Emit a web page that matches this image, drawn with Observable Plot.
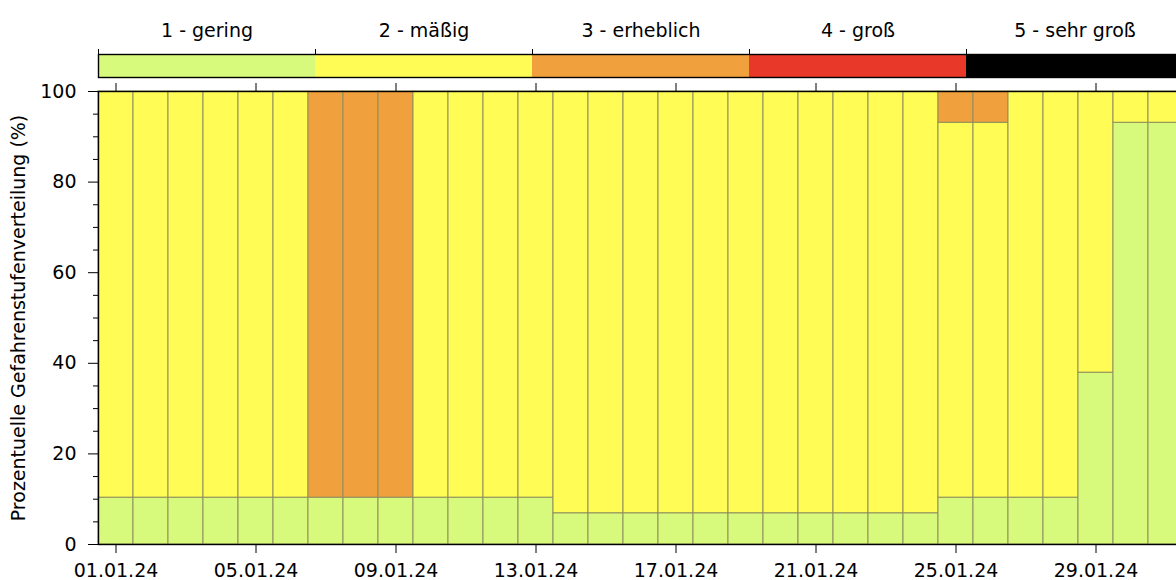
<!DOCTYPE html>
<html><head><meta charset="utf-8">
<script src="https://cdn.jsdelivr.net/npm/d3@7"></script>
<script src="https://cdn.jsdelivr.net/npm/@observablehq/plot@0.6"></script>
<style>
html,body{margin:0;padding:0;overflow:hidden;background:#fff;}
#chart{width:1183px;}
#chart svg{display:block;max-width:none !important;}
</style></head><body><div id="chart"></div>
<script>
const days = ["01.01.24","02.01.24","03.01.24","04.01.24","05.01.24","06.01.24","07.01.24","08.01.24","09.01.24","10.01.24",
  "11.01.24","12.01.24","13.01.24","14.01.24","15.01.24","16.01.24","17.01.24","18.01.24","19.01.24","20.01.24",
  "21.01.24","22.01.24","23.01.24","24.01.24","25.01.24","26.01.24","27.01.24","28.01.24","29.01.24","30.01.24","31.01.24"];
const tickDays = ["01.01.24","05.01.24","09.01.24","13.01.24","17.01.24","21.01.24","25.01.24","29.01.24"];
const level1 = [10.34,10.34,10.34,10.34,10.34,10.34, 10.34,10.34,10.34, 10.34,10.34,10.34,10.34,
  6.9,6.9,6.9,6.9,6.9,6.9,6.9,6.9,6.9,6.9,6.9, 10.34,10.34,10.34,10.34, 37.93, 93.1,93.1];
const level2 = [89.66,89.66,89.66,89.66,89.66,89.66, 0,0,0, 89.66,89.66,89.66,89.66,
  93.1,93.1,93.1,93.1,93.1,93.1,93.1,93.1,93.1,93.1,93.1, 82.76,82.76,89.66,89.66, 62.07, 6.9,6.9];
const level3 = [0,0,0,0,0,0, 89.66,89.66,89.66, 0,0,0,0,
  0,0,0,0,0,0,0,0,0,0,0, 6.9,6.9,0,0, 0, 0,0];
const level4 = new Array(31).fill(0);
const level5 = new Array(31).fill(0);
const levelNames = ["1 - gering","2 - mäßig","3 - erheblich","4 - groß","5 - sehr groß"];
const levelColors = ["#d8fa7c","#fffc55","#f0a03c","#e8382a","#000000"];
const yMajor = [0,20,40,60,80,100];
const yMinor = [5,10,15,25,30,35,45,50,55,65,70,75,85,90,95];
const yLabel = "Prozentuelle Gefahrenstufenverteilung (%)";

const series = [level1, level2, level3, level4, level5];
const data = [];
days.forEach((day, i) => {
  series.forEach((s, k) => { if (s[i] > 0) data.push({day, level: levelNames[k], value: s[i]}); });
});

const font = {fontFamily: "DejaVu Sans", fontSize: "19px", color: "#000", background: "white", overflow: "visible", maxWidth: "none"};

const legend = Plot.plot({
  width: 1183, height: 80, marginLeft: 98, marginRight: 0, marginTop: 54, marginBottom: 3,
  style: font,
  x: {domain: [0, 5], axis: null},
  y: {domain: [0, 1], axis: null},
  color: {domain: levelNames, range: levelColors},
  marks: [
    Plot.rectY(levelNames, {x1: (d, i) => i, x2: (d, i) => i + 1, y1: 0, y2: 1, fill: d => d}),
    Plot.frame({stroke: "#000", strokeWidth: 1.4}),
    Plot.axisX({anchor: "top", ticks: [0, 1, 2, 3, 4], tickSize: 6, tickFormat: () => "", label: null}),
    Plot.text(levelNames, {x: (d, i) => i + 0.5, frameAnchor: "top", dy: -31, text: d => d, fontSize: 19})
  ]
});

const chart = Plot.plot({
  width: 1183, height: 500, marginLeft: 98, marginRight: 0, marginTop: 11, marginBottom: 36,
  style: font,
  x: {type: "band", domain: days, padding: 0, axis: null},
  y: {domain: [0, 100], axis: null},
  color: {domain: levelNames, range: levelColors},
  marks: [
    Plot.barY(data, {x: "day", y: "value", fill: "level", stroke: "#8f8f5c", strokeWidth: 1}),
    Plot.frame({stroke: "#000", strokeWidth: 1.4}),
    Plot.axisY({ticks: yMajor, tickSize: 10, tickPadding: 12, label: yLabel, labelAnchor: "center", labelArrow: "none", labelOffset: 87}),
    Plot.axisY({ticks: yMinor, tickSize: 5, tickFormat: () => "", label: null}),
    Plot.axisX({ticks: tickDays, tickSize: 9, tickPadding: 10, label: null}),
    Plot.axisX({anchor: "top", ticks: tickDays, tickSize: 9, tickFormat: () => "", label: null})
  ]
});

document.getElementById("chart").append(legend, chart);
</script></body></html>
